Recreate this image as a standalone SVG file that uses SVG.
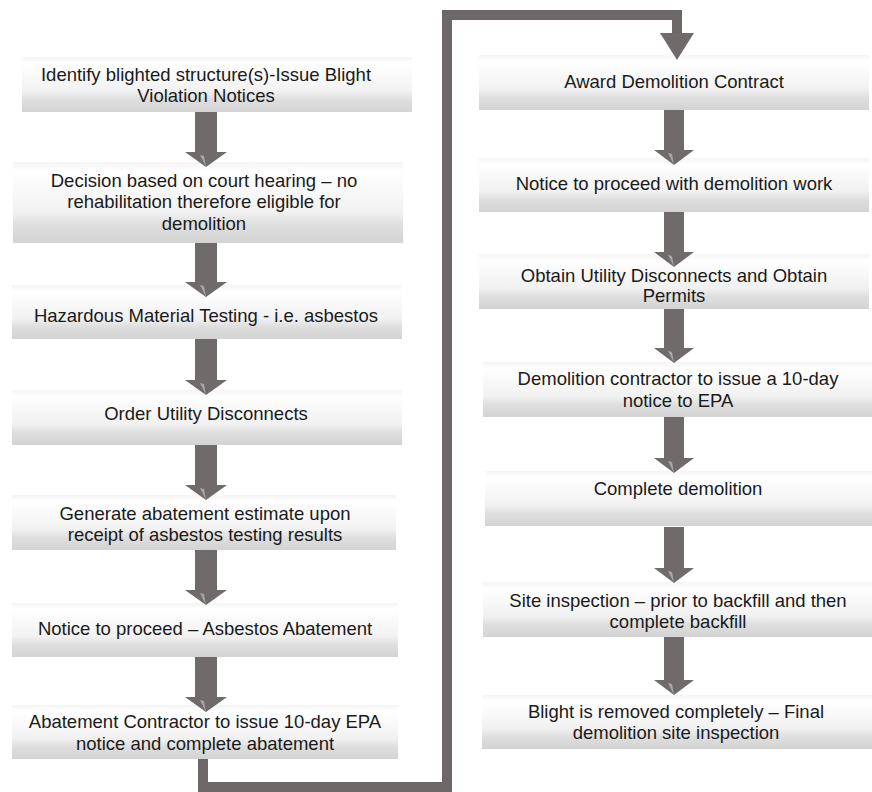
<svg xmlns="http://www.w3.org/2000/svg" width="872" height="792" viewBox="0 0 872 792">
<defs>
<linearGradient id="boxg" x1="0" y1="0" x2="0" y2="1">
<stop offset="0" stop-color="#f4f4f4"/>
<stop offset="0.12" stop-color="#ffffff"/>
<stop offset="0.62" stop-color="#f1f1f1"/>
<stop offset="0.78" stop-color="#dedede"/>
<stop offset="1" stop-color="#d3d3d3"/>
</linearGradient>
<style>
.box{fill:url(#boxg);}
.t{font-family:"Liberation Sans",Arial,sans-serif;font-size:18.5px;fill:#1a1a1a;text-anchor:middle;}
.arr{fill:#706b6b;}
.hl{fill:#a9a5a5;}
.link{fill:none;stroke:#6d6868;stroke-width:10;stroke-linejoin:miter;}
</style>
</defs>
<rect width="872" height="792" fill="#ffffff"/>
<g id="n1"><rect class="box" x="22" y="57" width="390" height="55"/><text class="t" x="206" y="81">Identify blighted structure(s)-Issue Blight</text><text class="t" x="206" y="102">Violation Notices</text></g>
<g id="n2"><rect class="box" x="13" y="162" width="390" height="81"/><text class="t" x="204" y="187">Decision based on court hearing – no</text><text class="t" x="204" y="208">rehabilitation therefore eligible for</text><text class="t" x="204" y="230">demolition</text></g>
<g id="n3"><rect class="box" x="12" y="285" width="390" height="54"/><text class="t" x="206" y="322">Hazardous Material Testing - i.e. asbestos</text></g>
<g id="n4"><rect class="box" x="12" y="390" width="390" height="55"/><text class="t" x="206" y="420">Order Utility Disconnects</text></g>
<g id="n5"><rect class="box" x="12" y="495" width="384" height="55"/><text class="t" x="205" y="520">Generate abatement estimate upon</text><text class="t" x="205" y="541">receipt of asbestos testing results</text></g>
<g id="n6"><rect class="box" x="12" y="603" width="386" height="54"/><text class="t" x="205" y="635">Notice to proceed – Asbestos Abatement</text></g>
<g id="n7"><rect class="box" x="12" y="705" width="386" height="54"/><text class="t" x="205" y="728">Abatement Contractor to issue 10-day EPA</text><text class="t" x="205" y="750">notice and complete abatement</text></g>
<g id="n8"><rect class="box" x="479" y="55" width="390" height="55"/><text class="t" x="674" y="88">Award Demolition Contract</text></g>
<g id="n9"><rect class="box" x="479" y="158" width="390" height="54"/><text class="t" x="674" y="190">Notice to proceed with demolition work</text></g>
<g id="n10"><rect class="box" x="479" y="254" width="390" height="55"/><text class="t" x="674" y="282">Obtain Utility Disconnects and Obtain</text><text class="t" x="674" y="302">Permits</text></g>
<g id="n11"><rect class="box" x="483" y="362" width="389" height="55"/><text class="t" x="678" y="385">Demolition contractor to issue a 10-day</text><text class="t" x="678" y="407">notice to EPA</text></g>
<g id="n12"><rect class="box" x="485" y="471" width="387" height="55"/><text class="t" x="678" y="495">Complete demolition</text></g>
<g id="n13"><rect class="box" x="483" y="582" width="389" height="55"/><text class="t" x="678" y="607">Site inspection – prior to backfill and then</text><text class="t" x="678" y="628">complete backfill</text></g>
<g id="n14"><rect class="box" x="482" y="695" width="390" height="54"/><text class="t" x="676" y="718">Blight is removed completely – Final</text><text class="t" x="676" y="739">demolition site inspection</text></g>
<g id="connectors">
<path class="arr" d="M195,112H217V152H227L206,167L185,152H195Z"/><path class="hl" d="M200,155L206,167L204,156Z"/>
<path class="arr" d="M195,243H217V282H227L206,297L185,282H195Z"/><path class="hl" d="M200,285L206,297L204,286Z"/>
<path class="arr" d="M195,339H217V380H227L206,395L185,380H195Z"/><path class="hl" d="M200,383L206,395L204,384Z"/>
<path class="arr" d="M195,445H217V485H227L206,500L185,485H195Z"/><path class="hl" d="M200,488L206,500L204,489Z"/>
<path class="arr" d="M195,550H217V590H227L206,605L185,590H195Z"/><path class="hl" d="M200,593L206,605L204,594Z"/>
<path class="arr" d="M195,657H217V697H227L206,712L185,697H195Z"/><path class="hl" d="M200,700L206,712L204,701Z"/>
<path class="arr" d="M664,110H684V150H694L674,165L654,150H664Z"/><path class="hl" d="M668,153L674,165L672,154Z"/>
<path class="arr" d="M664,212H684V252H694L674,267L654,252H664Z"/><path class="hl" d="M668,255L674,267L672,256Z"/>
<path class="arr" d="M664,309H684V348H694L674,363L654,348H664Z"/><path class="hl" d="M668,351L674,363L672,352Z"/>
<path class="arr" d="M664,417H684V458H694L674,473L654,458H664Z"/><path class="hl" d="M668,461L674,473L672,462Z"/>
<path class="arr" d="M664,527H684V568H694L674,583L654,568H664Z"/><path class="hl" d="M668,571L674,583L672,572Z"/>
<path class="arr" d="M664,637H684V680H694L674,695L654,680H664Z"/><path class="hl" d="M668,683L674,695L672,684Z"/>
<path class="link" d="M203,759V787H447V15H677V35"/>
<path class="arr" d="M660,33H694L677,60Z"/>
</g>
</svg>
